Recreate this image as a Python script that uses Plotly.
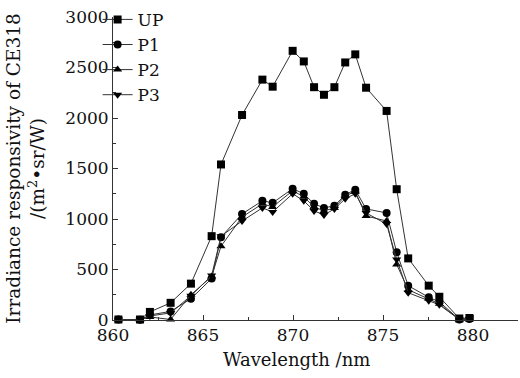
import plotly.graph_objects as go

wavelength = [860.3, 861.5, 862.05, 863.2, 864.33, 865.48, 866.0, 867.17, 868.3, 868.87,
              869.98, 870.6, 871.17, 871.72, 872.3, 872.9, 873.46, 874.06, 875.2, 875.76,
              876.4, 877.54, 878.13, 879.24, 879.8]
UP = [5, 5, 80, 170, 360, 830, 1540, 2030, 2380, 2310, 2665, 2560, 2305, 2230, 2305,
      2550, 2630, 2300, 2070, 1295, 610, 340, 230, 15, 20]
P1 = [5, 3, 50, 85, 210, 410, 820, 1050, 1180, 1160, 1300, 1250, 1150, 1110, 1130,
      1240, 1290, 1100, 1060, 670, 340, 225, 180, 5, 10]
P2 = [5, 3, 30, 5, 250, 430, 730, 1020, 1150, 1120, 1280, 1220, 1120, 1080, 1110,
      1230, 1270, 1030, 980, 550, 300, 210, 160, 5, 10]
P3 = [5, 3, 40, 70, 240, 440, 830, 980, 1110, 1070, 1250, 1180, 1080, 1040, 1100,
      1200, 1250, 1060, 950, 600, 270, 190, 150, 5, 10]

series = [("UP", UP, "square"), ("P1", P1, "circle"),
          ("P2", P2, "triangle-up"), ("P3", P3, "triangle-down")]

FONT = "DejaVu Serif"
fig = go.Figure()
for name, vals, sym in series:
    fig.add_trace(go.Scatter(
        x=wavelength, y=vals, name=name, mode="lines+markers",
        line=dict(color="#333333", width=1),
        marker=dict(symbol=sym, size=8, color="black"),
        cliponaxis=False,
    ))

axis_common = dict(
    showline=True, linecolor="#333333", linewidth=1,
    ticks="inside", ticklen=5, tickwidth=1, tickcolor="#333333",
    showgrid=False, zeroline=False, mirror=False, automargin=False,
    tickfont=dict(family=FONT, size=17, color="#111111"),
)
fig.update_xaxes(range=[860, 882.5], tickvals=[860, 865, 870, 875, 880],
                 minor=dict(ticks="inside", ticklen=3, dtick=2.5, tick0=860, tickcolor="#333333"),
                 **axis_common)
fig.update_yaxes(range=[0, 3000], tickvals=[0, 500, 1000, 1500, 2000, 2500, 3000],
                 minor=dict(ticks="inside", ticklen=3, dtick=250, tick0=0, tickcolor="#333333"),
                 title=dict(text="Irradiance responsivity of CE318<br>/(m<sup>2</sup>•sr/W)",
                            font=dict(family=FONT, size=18.5, color="#111111")),
                 **axis_common)

fig.add_annotation(text="Wavelength /nm", xref="paper", yref="paper",
                   x=0.452, y=-0.132, xanchor="center", yanchor="middle",
                   showarrow=False, font=dict(family=FONT, size=18, color="#111111"))

fig.update_layout(
    width=520, height=378,
    margin=dict(l=113, r=2, t=17, b=58, autoexpand=False),
    paper_bgcolor="white", plot_bgcolor="white",
    legend=dict(x=-0.038, y=1.05, xanchor="left", yanchor="top",
                font=dict(family=FONT, size=17, color="#111111"),
                bgcolor="rgba(0,0,0,0)", tracegroupgap=0, itemwidth=30),
    showlegend=True,
)
fig.write_html("out.html", post_script="document.body.style.margin='0';",
               config={"displayModeBar": False})
